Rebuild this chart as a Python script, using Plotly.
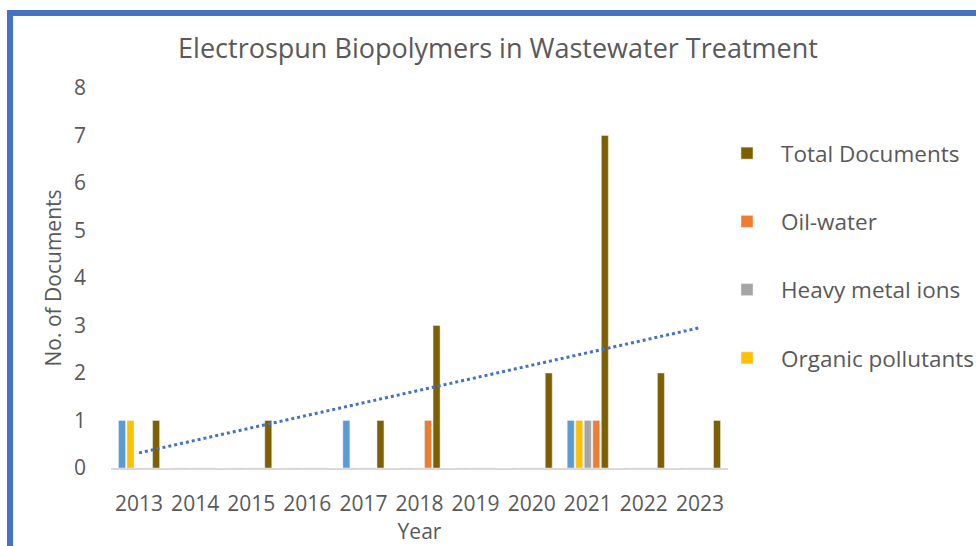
import numpy as np
import plotly.graph_objects as go

years = ["2013", "2014", "2015", "2016", "2017", "2018", "2019", "2020", "2021", "2022", "2023"]
other = [1, 0, 0, 0, 1, 0, 0, 0, 1, 0, 0]            # blue bars (no legend entry)
organic = [1, 0, 0, 0, 0, 0, 0, 0, 1, 0, 0]
heavy_metal = [0, 0, 0, 0, 0, 0, 0, 0, 1, 0, 0]
oil_water = [0, 0, 0, 0, 0, 1, 0, 0, 1, 0, 0]
total_docs = [1, 0, 1, 0, 1, 3, 0, 2, 7, 2, 1]
y_ticks = [0, 1, 2, 3, 4, 5, 6, 7, 8]

TEXT = "#595959"
FONT = "Open Sans"

# linear trendline of total documents
idx = np.arange(len(years))
slope, intercept = np.polyfit(idx, total_docs, 1)
trend = slope * idx + intercept

fig = go.Figure()
fig.add_trace(go.Bar(x=years, y=other, name="Other", marker_color="#5B9BD5", showlegend=False))
fig.add_trace(go.Bar(x=years, y=organic, name="Organic pollutants", marker_color="#FFC000",
                     legendgroup="d", legendrank=4))
fig.add_trace(go.Bar(x=years, y=heavy_metal, name="Heavy metal ions", marker_color="#A5A5A5",
                     legendgroup="c", legendrank=3))
fig.add_trace(go.Bar(x=years, y=oil_water, name="Oil-water", marker_color="#ED7D31",
                     legendgroup="b", legendrank=2))
fig.add_trace(go.Bar(x=years, y=total_docs, name="Total Documents", marker_color="#7F6000",
                     legendgroup="a", legendrank=1))
fig.add_trace(go.Scatter(x=years, y=trend, mode="lines", showlegend=False,
                         line=dict(color="#4472C4", width=3, dash="dot")))

fig.update_layout(
    width=976, height=546,
    margin=dict(l=111, r=248, t=88, b=78, autoexpand=False),
    paper_bgcolor="white", plot_bgcolor="white",
    font=dict(family=FONT, color=TEXT, size=21),
    barmode="group", bargap=0.24, bargroupgap=0.18,
    title=dict(text="Electrospun Biopolymers in Wastewater Treatment",
               x=498 / 976, xanchor="center", y=1 - 49 / 546, yanchor="middle",
               yref="container", font=dict(size=27, color=TEXT, family=FONT)),
    legend=dict(x=(713 - 111) / 617, xanchor="left", y=(468 - 132) / 380, yanchor="top",
                itemwidth=58, tracegroupgap=36, font=dict(size=22.5, color=TEXT),
                bgcolor="rgba(0,0,0,0)"),
    showlegend=True,
)
fig.update_xaxes(type="category", showline=True, linecolor="#D9D9D9", linewidth=1.5,
                 showgrid=False, ticks="", ticklabelstandoff=16, automargin=False,
                 title=dict(text="Year", standoff=2, font=dict(size=21, color=TEXT)),
                 tickfont=dict(size=21, color=TEXT))
fig.update_yaxes(range=[0, 8], tickvals=y_ticks, showgrid=False, zeroline=False, showline=False,
                 ticks="", ticklabelstandoff=24, automargin=False,
                 title=dict(text="No. of Documents", standoff=6, font=dict(size=21, color=TEXT)),
                 tickfont=dict(size=21, color=TEXT))

# blue frame around the chart
fig.add_shape(type="rect", xref="paper", yref="paper",
              x0=(10 - 111) / 617, x1=2.0, y0=-0.5, y1=(468 - 13) / 380,
              line=dict(color="#4472C4", width=6), fillcolor="rgba(0,0,0,0)", layer="above")

fig.write_html("out.html", config={"displayModeBar": False},
               post_script="document.body.style.margin='0px';document.body.style.overflow='hidden';")
